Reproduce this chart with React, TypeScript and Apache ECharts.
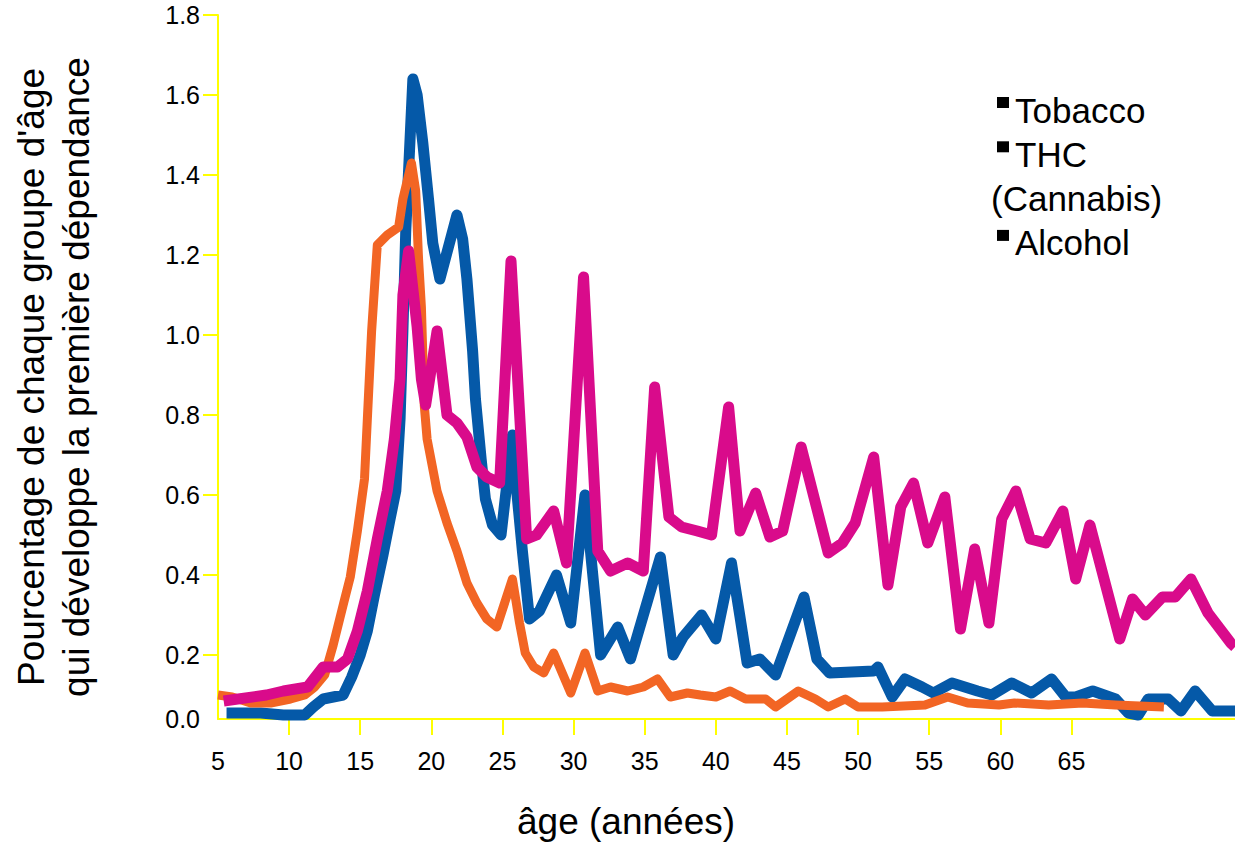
import React, { useEffect, useRef } from 'react';
import * as echarts from 'echarts';

const FONT = '"Liberation Sans", Arial, Helvetica, sans-serif';

// Axis ticks
const xTickValues = [5, 10, 15, 20, 25, 30, 35, 40, 45, 50, 55, 60, 65];
const yTickValues = [0.04, 0.2, 0.4, 0.6, 0.8, 1.0, 1.2, 1.4, 1.6, 1.8];
const yTickLabels = ['0.0', '0.2', '0.4', '0.6', '0.8', '1.0', '1.2', '1.4', '1.6', '1.8'];

// Series: [age, percentage]
const tobacco: [number, number][] = [
  [5.6, 0.055], [8.0, 0.055], [9.6, 0.05], [11.1, 0.05], [11.7, 0.07], [12.4, 0.09], [13.8, 0.1],
  [14.4, 0.145], [15.0, 0.2], [15.5, 0.26], [16.0, 0.35], [16.6, 0.45], [17.1, 0.54], [17.5, 0.61],
  [17.8, 0.79], [18.0, 1.01], [18.2, 1.26], [18.7, 1.64], [19.0, 1.6], [19.4, 1.48], [19.8, 1.34],
  [20.1, 1.23], [20.6, 1.14], [21.8, 1.3], [22.2, 1.24], [22.5, 1.14], [22.9, 0.96], [23.1, 0.84],
  [23.5, 0.69], [23.8, 0.59], [24.3, 0.525], [24.9, 0.5], [25.7, 0.75], [26.0, 0.61], [26.4, 0.46],
  [26.9, 0.29], [27.6, 0.31], [28.8, 0.4], [29.8, 0.28], [30.8, 0.6], [31.9, 0.2], [33.1, 0.27],
  [34.0, 0.19], [36.1, 0.445], [37.0, 0.2], [37.7, 0.245], [39.0, 0.3], [40.0, 0.24], [41.1, 0.43],
  [41.7, 0.295], [42.2, 0.18], [43.1, 0.19], [44.2, 0.15], [46.2, 0.345], [47.1, 0.19], [48.0, 0.155],
  [51.1, 0.16], [51.4, 0.17], [52.4, 0.095], [53.3, 0.14], [54.5, 0.12], [55.3, 0.105], [56.6, 0.13],
  [58.4, 0.11], [59.4, 0.1], [60.8, 0.13], [62.2, 0.105], [63.6, 0.14], [64.6, 0.095], [65.3, 0.095],
  [66.5, 0.11], [68.1, 0.09], [69.0, 0.055], [69.7, 0.05], [70.4, 0.09], [71.8, 0.09], [72.7, 0.06],
  [73.7, 0.11], [74.9, 0.06], [76.5, 0.06],
];

const thc: [number, number][] = [
  [5.0, 0.1], [6.0, 0.095], [7.3, 0.08], [8.7, 0.08], [10.1, 0.09], [11.1, 0.1], [11.8, 0.12],
  [12.5, 0.15], [13.1, 0.225], [13.8, 0.325], [14.3, 0.395], [14.8, 0.51], [15.3, 0.64], [15.5, 0.79],
  [15.8, 1.01], [16.2, 1.225], [16.9, 1.25], [17.7, 1.27], [18.0, 1.34], [18.6, 1.43], [18.9, 1.36],
  [19.1, 1.19], [19.3, 1.07], [19.5, 0.825], [19.7, 0.74], [20.4, 0.61], [21.1, 0.53], [21.8, 0.46],
  [22.5, 0.38], [23.2, 0.33], [23.9, 0.29], [24.6, 0.27], [25.7, 0.39], [26.2, 0.28], [26.6, 0.205],
  [27.2, 0.17], [27.9, 0.155], [28.6, 0.205], [29.8, 0.105], [30.8, 0.205], [31.7, 0.11], [32.6, 0.12],
  [33.8, 0.11], [34.9, 0.12], [35.9, 0.14], [36.8, 0.095], [38.0, 0.105], [38.9, 0.1], [40.0, 0.095],
  [41.0, 0.11], [42.1, 0.09], [43.5, 0.09], [44.2, 0.07], [45.8, 0.11], [47.0, 0.09], [47.9, 0.07],
  [49.1, 0.09], [50.0, 0.07], [51.7, 0.07], [54.7, 0.075], [56.3, 0.095], [57.7, 0.08], [59.9, 0.075],
  [61.0, 0.08], [63.4, 0.075], [65.8, 0.08], [68.1, 0.075], [71.5, 0.07],
];

const alcohol: [number, number][] = [
  [5.4, 0.085], [8.4, 0.1], [9.6, 0.11], [11.3, 0.12], [12.4, 0.17], [13.4, 0.17], [14.1, 0.19],
  [14.8, 0.26], [15.5, 0.36], [16.2, 0.49], [16.9, 0.61], [17.4, 0.74], [17.8, 0.89], [18.0, 1.1],
  [18.4, 1.21], [19.0, 1.02], [19.3, 0.89], [19.6, 0.825], [20.4, 1.01], [21.1, 0.8], [21.8, 0.78],
  [22.5, 0.745], [23.2, 0.67], [23.9, 0.645], [24.8, 0.63], [25.6, 1.185], [26.7, 0.49], [27.4, 0.5],
  [28.6, 0.56], [29.5, 0.43], [30.7, 1.145], [31.7, 0.46], [32.6, 0.41], [33.8, 0.43], [34.9, 0.41],
  [35.7, 0.87], [36.7, 0.545], [37.6, 0.52], [38.7, 0.51], [39.7, 0.5], [40.9, 0.82], [41.7, 0.51],
  [42.8, 0.605], [43.8, 0.495], [44.7, 0.51], [46.0, 0.72], [47.9, 0.455], [48.9, 0.48], [49.8, 0.53],
  [51.1, 0.695], [52.1, 0.375], [53.0, 0.57], [53.9, 0.63], [54.9, 0.48], [56.1, 0.595], [57.2, 0.265],
  [58.2, 0.465], [59.2, 0.28], [60.1, 0.54], [61.1, 0.61], [62.1, 0.49], [63.2, 0.48], [64.4, 0.56],
  [65.3, 0.39], [66.3, 0.525], [68.4, 0.24], [69.3, 0.34], [70.2, 0.3], [71.4, 0.345], [72.3, 0.345],
  [73.4, 0.39], [74.6, 0.305], [76.2, 0.23], [76.5, 0.22],
];

const seriesNames = ['Tobacco', 'THC (Cannabis)', 'Alcohol'];
const legendLines = ['Tobacco', 'THC', '(Cannabis)', 'Alcohol'];
const legendBullets = [true, true, false, true];
const yTitle = "Pourcentage de chaque groupe d'âge\nqui développe la première dépendance";
const xTitle = 'âge (années)';

export default function App() {
  const ref = useRef<HTMLDivElement>(null);

  useEffect(() => {
    if (!ref.current) return;
    const chart = echarts.init(ref.current, null, { renderer: 'svg' });
    const axisColor = '#ffff00';
    const legendFont = 35;
    const legendGraphics: any[] = [];
    legendLines.forEach((t, i) => {
      const center = 110 + i * 44.3;
      if (legendBullets[i]) {
        legendGraphics.push({
          type: 'rect',
          shape: { x: 997, y: center - 13, width: 12, height: 11 },
          style: { fill: '#000' },
        });
      }
      legendGraphics.push({
        type: 'text',
        x: legendBullets[i] ? 1015 : 991,
        y: center,
        style: {
          text: t,
          fontSize: legendFont,
          lineHeight: 38,
          fontFamily: FONT,
          fill: '#000',
          align: 'left',
          verticalAlign: 'middle',
        },
      });
    });

    const lineCommon = { type: 'line', symbol: 'none', showSymbol: false };

    chart.setOption({
      animation: false,
      backgroundColor: '#ffffff',
      grid: { left: 218, right: 0, top: 15, bottom: 123, containLabel: false, outerBoundsMode: 'none' },
      xAxis: {
        type: 'value',
        min: 5,
        max: 76.5,
        axisLine: { show: true, onZero: false, lineStyle: { color: axisColor, width: 2 } },
        axisTick: {
          show: true,
          length: 16,
          customValues: xTickValues.slice(1),
          lineStyle: { color: axisColor, width: 2 },
        },
        axisLabel: {
          customValues: xTickValues,
          margin: 29,
          color: '#000',
          fontSize: 25,
          fontFamily: FONT,
          formatter: (v: number) => String(v),
        },
        splitLine: { show: false },
      },
      yAxis: {
        type: 'value',
        min: 0.04,
        max: 1.8,
        axisLine: { show: true, lineStyle: { color: axisColor, width: 2 } },
        axisTick: {
          show: true,
          length: 15,
          customValues: yTickValues.slice(1),
          lineStyle: { color: axisColor, width: 2 },
        },
        axisLabel: {
          customValues: yTickValues,
          margin: 18,
          color: '#000',
          fontSize: 25,
          fontFamily: FONT,
          formatter: (v: number) => {
            let best = 0;
            yTickValues.forEach((tv, i) => {
              if (Math.abs(tv - v) < Math.abs(yTickValues[best] - v)) best = i;
            });
            return yTickLabels[best];
          },
        },
        splitLine: { show: false },
      },
      series: [
        {
          ...lineCommon, name: seriesNames[0], data: tobacco, z: 2,
          lineStyle: { color: '#0559a8', width: 11, join: 'round' }, itemStyle: { color: '#0559a8' },
        },
        {
          ...lineCommon, name: seriesNames[1], data: thc, z: 3,
          lineStyle: { color: '#f26524', width: 9, join: 'round' }, itemStyle: { color: '#f26524' },
        },
        {
          ...lineCommon, name: seriesNames[2], data: alcohol, z: 4,
          lineStyle: { color: '#d90b8b', width: 11, join: 'round' }, itemStyle: { color: '#d90b8b' },
        },
      ],
      graphic: [
        {
          type: 'text',
          x: 54,
          y: 377,
          rotation: Math.PI / 2,
          style: {
            text: yTitle,
            fontSize: 37,
            lineHeight: 45,
            fontFamily: FONT,
            fill: '#000',
            align: 'center',
            verticalAlign: 'middle',
          },
        },
        {
          type: 'text',
          x: 626,
          y: 821,
          style: {
            text: xTitle,
            fontSize: 37,
            fontFamily: FONT,
            fill: '#000',
            align: 'center',
            verticalAlign: 'middle',
          },
        },
        ...legendGraphics,
      ],
    });
    return () => chart.dispose();
  }, []);

  return (
    <div
      ref={ref}
      style={{ position: 'absolute', left: 0, top: 0, width: 1235, height: 842, background: '#fff' }}
    />
  );
}
